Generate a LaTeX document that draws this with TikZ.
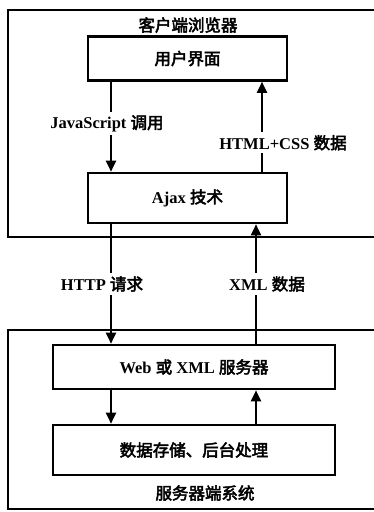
\documentclass[tikz,border=0pt]{standalone}
\usepackage{fontspec}
\setmainfont{Liberation Serif}
\newfontfamily\cjk[AutoFakeBold=3]{Noto Sans CJK SC}
\usetikzlibrary{arrows.meta}

\newcommand{\zh}[1]{{\cjk\bfseries #1}}

\tikzset{
  outer/.style={line width=2.8pt},
  box/.style={draw, line width=2.6pt, minimum width=199pt, minimum height=44pt, font=\fontsize{16.5}{18}\selectfont\bfseries},
  wide/.style={box, minimum width=282pt},
  arr/.style={line width=2.2pt, -{Triangle[width=10pt,length=11pt]}},
  lbl/.style={fill=white, inner sep=3pt, font=\fontsize{16.5}{18}\selectfont\bfseries},
  ttl/.style={font=\fontsize{16.5}{18}\selectfont\bfseries}
}

\begin{document}
\begin{tikzpicture}[x=1pt, y=-1pt]
    \useasboundingbox (0,0) rectangle (374,512);
    \clip (0,0) rectangle (374,512);
    % Outer frames
    \draw[outer] (8,10) rectangle (392,237);
    \draw[outer] (8,330) rectangle (392,509);
    \node[ttl] (browser) at (188,25) {\zh{客户端浏览器}};
    \node[ttl] (server) at (205,493) {\zh{服务器端系统}};

    % Boxes
    \node[box] (ui) at (187.5,58.5) {\zh{用户界面}};
    \node[box, minimum height=50pt] (ajax) at (187.5,198) {Ajax \zh{技术}};
    \node[wide] (web) at (194,367) {Web \zh{或} XML \zh{服务器}};
    \node[wide, minimum height=50pt] (data) at (194,450) {\zh{数据存储、后台处理}};

    % Columns of the arrows
    \coordinate (cl) at (111,0);
    \coordinate (cr) at (262,0);
    \coordinate (cm) at (256,0);

    % Arrows
    \draw[arr] (ui.south -| cl) -- node[lbl, xshift=-4pt, yshift=3pt] {JavaScript \zh{调用}} (ajax.north -| cl);
    \draw[arr] (ajax.north -| cr) -- node[lbl, xshift=21pt, yshift=-16pt] {HTML+CSS \zh{数据}} (ui.south -| cr);
    \draw[arr] (ajax.south -| cl) -- node[lbl, xshift=-9pt] {HTTP \zh{请求}} (web.north -| cl);
    \draw[arr] (web.north -| cm) -- node[lbl, xshift=11pt] {XML \zh{数据}} (ajax.south -| cm);
    \draw[arr] (web.south -| cl) -- (data.north -| cl);
    \draw[arr] (data.north -| cm) -- (web.south -| cm);
\end{tikzpicture}
\end{document}
